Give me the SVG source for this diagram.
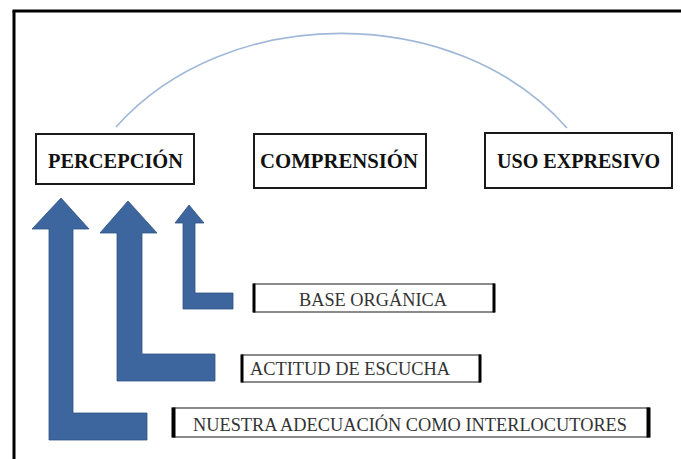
<svg xmlns="http://www.w3.org/2000/svg" width="681" height="459" viewBox="0 0 681 459">
<style>
.main{fill:#fff;stroke:#1a1a1a;stroke-width:2}
.mt{font-family:"Liberation Serif","Times New Roman",serif;font-weight:bold;font-size:20px;fill:#111}
.lab{fill:#fff;stroke:#6e6e6e;stroke-width:1.6}
.bar{fill:#000}
.lt{font-family:"Liberation Serif","Times New Roman",serif;font-size:18.5px;fill:#333}
.arr{fill:#3d669f;stroke:#2e5383;stroke-width:0.8}
</style>
<rect width="681" height="459" fill="#fff"/>
<g id="frame">
<line x1="12.5" y1="11" x2="681" y2="11" stroke="#000" stroke-width="3"/>
<line x1="14" y1="11" x2="14" y2="459" stroke="#000" stroke-width="3"/>
</g>
<g id="connectors">
<path d="M116,127 C227,2 456,2 567,128" fill="none" stroke="#9fb8d8" stroke-width="1.6"/>
<polygon class="arr" points="61,198 89,229 73,229 73,413 147,413 147,440 49,440 49,229 32,229"/>
<polygon class="arr" points="128,201 157,233 142,233 142,354 215,354 215,381 117,381 117,233 100,233"/>
<polygon class="arr" points="189,205 204,223 195,223 195,293 233,293 233,309 183,309 183,223 175,223"/>
</g>
<g id="percepcion">
<rect class="main" x="36" y="134" width="158" height="50"/>
<text class="mt" x="48" y="168" textLength="135" lengthAdjust="spacingAndGlyphs">PERCEPCIÓN</text>
</g>
<g id="comprension">
<rect class="main" x="254" y="134" width="172" height="54"/>
<text class="mt" x="260" y="168" textLength="158" lengthAdjust="spacingAndGlyphs">COMPRENSIÓN</text>
</g>
<g id="uso-expresivo">
<rect class="main" x="485" y="133" width="187" height="55"/>
<text class="mt" x="497" y="168" textLength="163" lengthAdjust="spacingAndGlyphs">USO EXPRESIVO</text>
</g>
<g id="base-organica">
<rect class="lab" x="254" y="284" width="240" height="28"/>
<rect class="bar" x="252.5" y="283.5" width="3" height="29"/>
<rect class="bar" x="492.5" y="283.5" width="3" height="29"/>
<text class="lt" x="299" y="306" textLength="148" lengthAdjust="spacingAndGlyphs">BASE ORGÁNICA</text>
</g>
<g id="actitud-escucha">
<rect class="lab" x="242" y="355" width="238" height="27"/>
<rect class="bar" x="240.5" y="354.5" width="3" height="28"/>
<rect class="bar" x="478.5" y="354.5" width="3" height="28"/>
<text class="lt" x="250" y="375" textLength="200" lengthAdjust="spacingAndGlyphs">ACTITUD DE ESCUCHA</text>
</g>
<g id="adecuacion">
<rect class="lab" x="173" y="408" width="476" height="29"/>
<rect class="bar" x="171.5" y="407.5" width="4" height="30"/>
<rect class="bar" x="646.5" y="407.5" width="4" height="30"/>
<text class="lt" x="193" y="431" textLength="434" lengthAdjust="spacingAndGlyphs">NUESTRA ADECUACIÓN COMO INTERLOCUTORES</text>
</g>
</svg>
